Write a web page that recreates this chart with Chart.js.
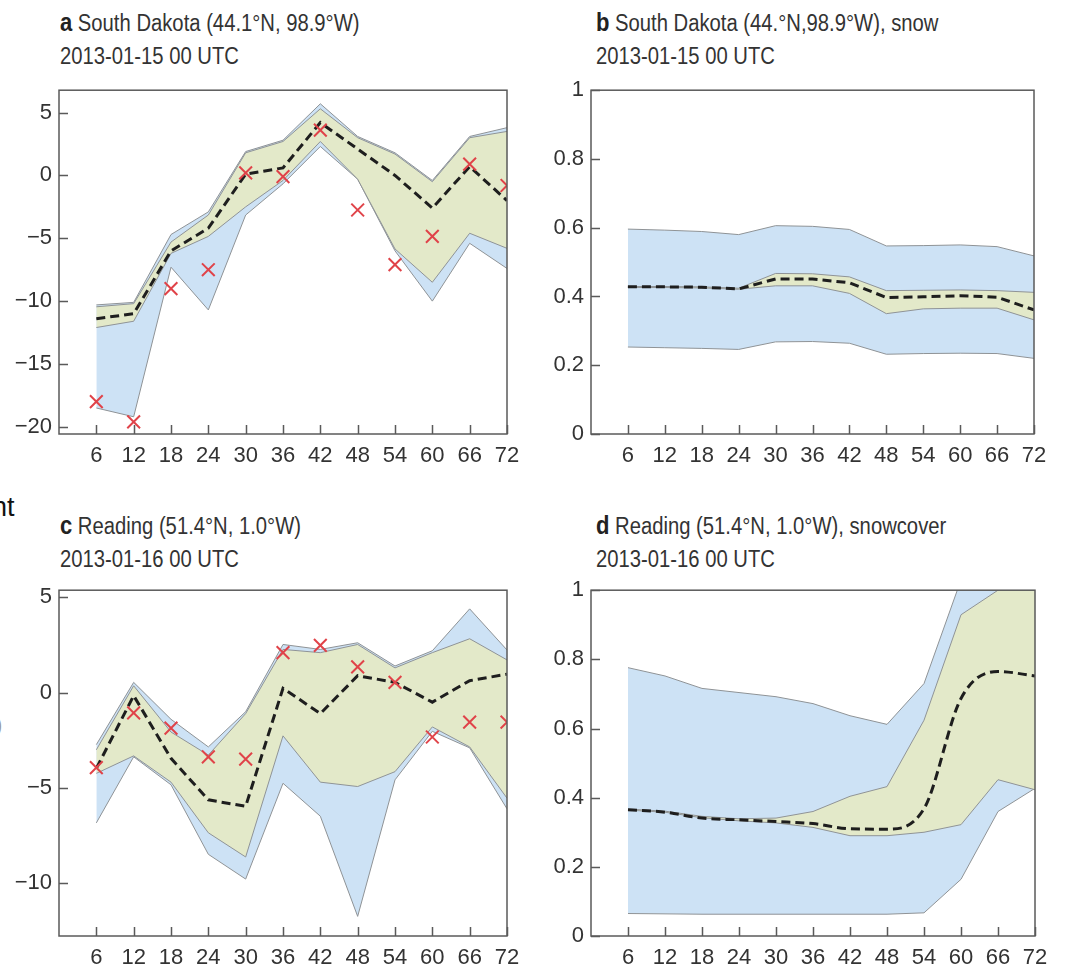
<!DOCTYPE html>
<html>
<head>
<meta charset="utf-8">
<script src="https://cdn.jsdelivr.net/npm/chart.js@4.4.1/dist/chart.umd.min.js"></script>
<style>
  html, body { margin: 0; padding: 0; background: #fff; }
  body { width: 1066px; height: 970px; position: relative; overflow: hidden;
         font-family: "Liberation Sans", sans-serif; color: #333; }
  .title { position: absolute; font-size: 23px; line-height: 33px; white-space: nowrap;
           transform: scaleX(0.88); transform-origin: 0 0; }
  .title b { color: #222; font-size: 25px; }
  .frag { position: absolute; font-family: "Liberation Sans", sans-serif; color: #111; white-space: nowrap; }
  canvas { position: absolute; }
</style>
</head>
<body>
<div class="frag" style="left:-8px; top:492px; font-size:27px;">nt</div>
<div class="frag" style="left:-5px; top:712px; font-size:22px; color:#999;">)</div>

<div class="title" style="left:60px; top:6px;"><b>a</b> South Dakota (44.1°N, 98.9°W)<br>2013-01-15 00 UTC</div>
<div class="title" style="left:596px; top:6px;"><b>b</b> South Dakota (44.°N,98.9°W), snow<br>2013-01-15 00 UTC</div>
<div class="title" style="left:60px; top:509px;"><b>c</b> Reading (51.4°N, 1.0°W)<br>2013-01-16 00 UTC</div>
<div class="title" style="left:596px; top:509px;"><b>d</b> Reading (51.4°N, 1.0°W), snowcover<br>2013-01-16 00 UTC</div>

<canvas id="ca" width="530" height="400" style="left:0px; top:70px;"></canvas>
<canvas id="cb" width="536" height="400" style="left:530px; top:70px;"></canvas>
<canvas id="cc" width="530" height="400" style="left:0px; top:570px;"></canvas>
<canvas id="cd" width="536" height="400" style="left:530px; top:570px;"></canvas>

<script>
// Forecast lead times (hours)
const leadTimes = [6, 12, 18, 24, 30, 36, 42, 48, 54, 60, 66, 72];
const xTickValues = [6, 12, 18, 24, 30, 36, 42, 48, 54, 60, 66, 72];
const tempTicks = { a: [-20, -15, -10, -5, 0, 5], c: [-10, -5, 0, 5] };
const fracTicks = [0, 0.2, 0.4, 0.6, 0.8, 1];

// a: South Dakota 2 m temperature
const aBlueLow  = [-18.5, -19.2, -7.3, -10.7, -3.15, -0.67, 2.3, -0.3, -6.0, -10.0, -5.4, -7.4];
const aBlueHigh = [-10.3, -10.1, -4.7, -2.9, 1.9, 2.8, 5.7, 3.1, 1.8, -0.4, 3.1, 3.8];
const aGreenLow = [-12.1, -11.6, -6.2, -4.85, -2.5, -0.4, 2.7, -0.3, -5.85, -8.5, -4.6, -5.8];
const aGreenHigh= [-10.45, -10.2, -5.3, -3.15, 1.8, 2.7, 5.3, 3.0, 1.7, -0.5, 3.0, 3.5];
const aMean     = [-11.4, -11.0, -6.0, -4.2, 0.1, 0.6, 4.2, 2.1, 0.0, -2.6, 0.7, -2.0];
const aObs      = [-18.0, -19.6, -9.0, -7.5, 0.2, -0.1, 3.6, -2.75, -7.1, -4.85, 0.9, -0.8];

// b: South Dakota snow
const bBlueLow  = [0.253, 0.251, 0.249, 0.246, 0.268, 0.269, 0.264, 0.232, 0.234, 0.235, 0.234, 0.220];
const bBlueHigh = [0.596, 0.593, 0.589, 0.580, 0.606, 0.604, 0.595, 0.547, 0.548, 0.550, 0.545, 0.518];
const bGreenLow = [0.426, 0.426, 0.425, 0.421, 0.431, 0.431, 0.409, 0.350, 0.364, 0.366, 0.366, 0.332];
const bGreenHigh= [0.429, 0.429, 0.428, 0.424, 0.467, 0.466, 0.457, 0.417, 0.418, 0.419, 0.417, 0.412];
const bMean     = [0.428, 0.428, 0.427, 0.422, 0.451, 0.451, 0.440, 0.397, 0.399, 0.402, 0.398, 0.361];

// c: Reading 2 m temperature
const cBlueLow  = [-6.84, -3.37, -4.84, -8.49, -9.79, -4.76, -6.49, -11.75, -4.58, -2.03, -2.9, -6.1];
const cBlueHigh = [-2.73, 0.54, -1.4, -2.85, -1.0, 2.53, 2.27, 2.62, 1.4, 2.2, 4.4, 2.24];
const cGreenLow = [-4.24, -3.32, -4.7, -7.36, -8.63, -2.27, -4.7, -4.93, -4.15, -1.8, -2.85, -5.54];
const cGreenHigh= [-3.0, 0.36, -2.07, -3.28, -1.1, 2.27, 2.1, 2.53, 1.3, 2.1, 2.83, 1.72];
const cMean     = [-3.98, -0.16, -3.45, -5.63, -5.97, 0.23, -1.1, 0.89, 0.54, -0.5, 0.63, 0.97];
const cObs      = [-3.94, -1.06, -1.86, -3.37, -3.49, 2.1, 2.48, 1.35, 0.54, -2.33, -1.55, -1.55];

// d: Reading snow cover
const dBlueLow  = [0.065, 0.064, 0.063, 0.063, 0.063, 0.063, 0.063, 0.063, 0.067, 0.164, 0.360, 0.427];
const dBlueHigh = [0.776, 0.752, 0.716, 0.704, 0.692, 0.672, 0.637, 0.612, 0.730, 1.03, 1.3, 1.3];
const dGreenLow = [0.364, 0.358, 0.342, 0.333, 0.327, 0.314, 0.290, 0.290, 0.300, 0.322, 0.452, 0.423];
const dGreenHigh= [0.367, 0.361, 0.346, 0.339, 0.341, 0.360, 0.404, 0.432, 0.624, 0.929, 1.0, 1.1];
const dMean     = [0.365, 0.358, 0.341, 0.336, 0.331, 0.325, 0.310, 0.309, 0.368, 0.687, 0.765, 0.752];

const BLUE = '#cde2f5';
const GREEN = '#e3e9c9';
const EDGE = '#8f9396';
const AXIS = '#5a5a5a';
const TEXT = '#333';
const FONT = '"Liberation Sans", sans-serif';

const pts = arr => arr.map((v, i) => ({ x: leadTimes[i], y: v }));

// Box around the plot area and tick marks pointing into it
const frameTicks = {
  id: 'frameTicks',
  afterDraw(chart) {
    const { ctx, chartArea: a, scales } = chart;
    ctx.save();
    ctx.strokeStyle = AXIS;
    ctx.lineWidth = 1.5;
    ctx.strokeRect(a.left, a.top, a.right - a.left, a.bottom - a.top);
    ctx.beginPath();
    scales.x.ticks.forEach(t => {
      const px = Math.round(scales.x.getPixelForValue(t.value)) + 0.5;
      ctx.moveTo(px, a.bottom);
      ctx.lineTo(px, a.bottom - 9);
    });
    scales.y.ticks.forEach(t => {
      const py = Math.round(scales.y.getPixelForValue(t.value)) + 0.5;
      ctx.moveTo(a.left, py);
      ctx.lineTo(a.left + 9, py);
    });
    ctx.stroke();
    ctx.restore();
  }
};

// A shaded range: lower edge, then upper edge filled down to it.
// Higher "order" values are drawn first (underneath).
function band(low, high, color, order) {
  return [
    { data: pts(low), order, borderColor: EDGE, borderWidth: 1, pointRadius: 0, fill: false, tension: 0 },
    { data: pts(high), order, borderColor: EDGE, borderWidth: 1, pointRadius: 0, fill: '-1', backgroundColor: color, tension: 0 }
  ];
}

function fmtNum(v) {
  return v < 0 ? '\u2212' + Math.abs(v) : String(v);
}

function makeChart(id, cfg) {
  const datasets = [
    ...band(cfg.blueLow, cfg.blueHigh, BLUE, 4),
    ...band(cfg.greenLow, cfg.greenHigh, GREEN, 3),
    { data: pts(cfg.mean), order: 2, borderColor: '#1e1e1e', borderWidth: 3, borderDash: [9, 5],
      pointRadius: 0, fill: false, cubicInterpolationMode: cfg.smoothMean ? 'monotone' : 'default' }
  ];
  if (cfg.obs) {
    datasets.push({ data: pts(cfg.obs), order: 1, showLine: false, pointStyle: 'crossRot', pointRadius: 9,
      pointBorderWidth: 2, pointBorderColor: '#e04349', pointBackgroundColor: '#e04349', borderColor: '#e04349' });
  }
  return new Chart(document.getElementById(id), {
    type: 'line',
    data: { datasets },
    options: {
      responsive: false,
      animation: false,
      layout: { padding: cfg.padding },
      plugins: { legend: { display: false }, tooltip: { enabled: false } },
      scales: {
        x: {
          type: 'linear', min: 0, max: 72,
          grid: { display: false, drawTicks: false },
          border: { display: false },
          afterBuildTicks: s => { s.ticks = xTickValues.map(v => ({ value: v })); },
          afterFit: s => { s.height = cfg.xHeight; },
          ticks: { padding: 9, color: TEXT, font: { family: FONT, size: 22 }, maxRotation: 0, autoSkip: false,
                   callback: v => String(v) }
        },
        y: {
          min: cfg.yMin, max: cfg.yMax,
          grid: { display: false, drawTicks: false },
          border: { display: false },
          afterBuildTicks: s => { s.ticks = cfg.yTicks.map(v => ({ value: v })); },
          afterFit: s => { s.width = cfg.yWidth; },
          ticks: { padding: 7, color: TEXT, font: { family: FONT, size: 22 }, autoSkip: false,
                   callback: v => fmtNum(v) }
        }
      }
    },
    plugins: [frameTicks]
  });
}

makeChart('ca', { blueLow: aBlueLow, blueHigh: aBlueHigh, greenLow: aGreenLow, greenHigh: aGreenHigh,
  mean: aMean, obs: aObs, yMin: -20.57, yMax: 6.78, yTicks: tempTicks.a,
  yWidth: 59, xHeight: 36, padding: { top: 15, right: 23, left: 0, bottom: 0 } });

makeChart('cb', { blueLow: bBlueLow, blueHigh: bBlueHigh, greenLow: bGreenLow, greenHigh: bGreenHigh,
  mean: bMean, yMin: 0, yMax: 1, yTicks: fracTicks,
  yWidth: 61, xHeight: 36, padding: { top: 15, right: 32, left: 0, bottom: 0 } });

makeChart('cc', { blueLow: cBlueLow, blueHigh: cBlueHigh, greenLow: cGreenLow, greenHigh: cGreenHigh,
  mean: cMean, obs: cObs, yMin: -12.78, yMax: 5.38, yTicks: tempTicks.c,
  yWidth: 59, xHeight: 34, padding: { top: 17, right: 23, left: 0, bottom: 0 } });

makeChart('cd', { blueLow: dBlueLow, blueHigh: dBlueHigh, greenLow: dGreenLow, greenHigh: dGreenHigh,
  mean: dMean, smoothMean: true, yMin: 0, yMax: 1, yTicks: fracTicks,
  yWidth: 61, xHeight: 34, padding: { top: 17, right: 31, left: 0, bottom: 0 } });
</script>
</body>
</html>
